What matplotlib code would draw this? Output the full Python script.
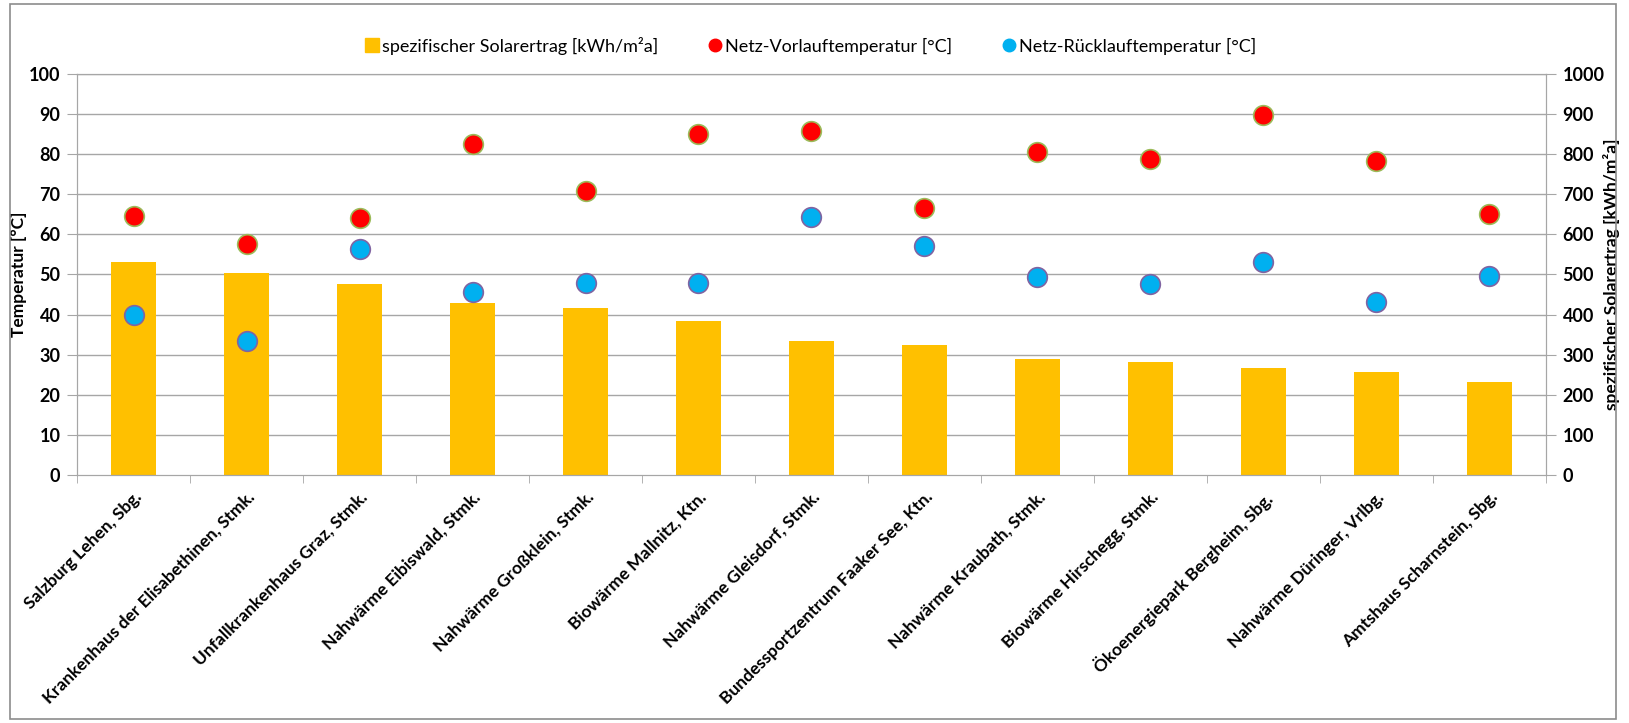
import numpy as np
import matplotlib
matplotlib.use('Agg')
import matplotlib.pyplot as plt
from matplotlib.lines import Line2D
from matplotlib.patches import Rectangle

plt.rcParams['font.family'] = ['Lato', 'DejaVu Sans']

standorte = ['Salzburg Lehen, Sbg.', 'Krankenhaus der Elisabethinen, Stmk.',
             'Unfallkrankenhaus Graz, Stmk.', 'Nahwärme Eibiswald, Stmk.',
             'Nahwärme Großklein, Stmk.', 'Biowärme Mallnitz, Ktn.',
             'Nahwärme Gleisdorf, Stmk.', 'Bundessportzentrum Faaker See, Ktn.',
             'Nahwärme Kraubath, Stmk.', 'Biowärme Hirschegg, Stmk.',
             'Ökoenergiepark Bergheim, Sbg.', 'Nahwärme Düringer, Vrlbg.',
             'Amtshaus Scharnstein, Sbg.']
solarertrag = [532, 504, 475, 429, 416, 384, 335, 324, 288, 281, 267, 257, 233]
vorlauf = [64.5, 57.5, 64.0, 82.5, 70.8, 85.0, 85.7, 66.5, 80.5, 78.7, 89.6, 78.3, 65.0]
ruecklauf = [40.0, 33.3, 56.4, 45.5, 47.9, 47.9, 64.3, 57.0, 49.3, 47.5, 53.0, 43.0, 49.5]

bar_col = '#FFC000'
red = '#FF0000'
blue = '#00B0F0'
grid_col = '#A6A6A6'

fig = plt.figure(figsize=(16.29, 7.23), dpi=100)
ax = fig.add_axes([0.0473, 0.343, 0.9017, 0.555])
ax2 = ax.twinx()

x = np.arange(len(standorte))

ax2.bar(x, solarertrag, 0.4, color=bar_col, zorder=2)
ax2.set_ylim(0, 1000)
ax2.set_yticks(np.arange(0, 1001, 100))

ax.set_zorder(ax2.get_zorder() + 1)
ax.patch.set_visible(False)
ax.scatter(x, vorlauf, s=200, color=red, edgecolors='#9BBB59', linewidths=1.2, zorder=3)
ax.scatter(x, ruecklauf, s=200, color=blue, edgecolors='#8064A2', linewidths=1.2, zorder=3)
ax.set_ylim(0, 100)
ax.set_yticks(np.arange(0, 101, 10))
ax.set_xlim(-0.5, len(standorte) - 0.5)

# gridlines on the bar axis so they stay behind the bars
for v in range(100, 1001, 100):
    ax2.axhline(v, color=grid_col, lw=1.0, zorder=1)

ax.set_xticks(x)
ax.set_xticklabels(standorte, rotation=45, ha='right', rotation_mode='anchor',
                   fontsize=12.5, fontweight='bold')
ax.tick_params(axis='x', which='major', length=0, pad=10)
ax.set_xticks(np.arange(-0.5, len(standorte)), minor=True)
ax.tick_params(axis='x', which='minor', length=6, color=grid_col, direction='out')

for a in (ax, ax2):
    a.tick_params(axis='y', length=7, color=grid_col, labelsize=13, pad=5)
    for s in a.spines.values():
        s.set_color(grid_col)
    for lab in a.get_yticklabels():
        lab.set_fontweight('bold')

ax.set_ylabel('Temperatur [°C]', fontsize=12.5, fontweight='bold')
ax.yaxis.set_label_coords(-0.034, 0.5)
ax2.set_ylabel('spezifischer Solarertrag [kWh/m²a]', fontsize=12.5, fontweight='bold')
ax2.yaxis.set_label_coords(1.039, 0.5)

handles = [Line2D([], [], marker='s', ls='', color=bar_col, markersize=10),
           Line2D([], [], marker='o', ls='', color=red, markersize=9),
           Line2D([], [], marker='o', ls='', color=blue, markersize=9)]
labels = ['spezifischer Solarertrag [kWh/m²a]', 'Netz-Vorlauftemperatur [°C]',
          'Netz-Rücklauftemperatur [°C]']
fig.legend(handles, labels, loc='center', bbox_to_anchor=(0.497, 0.937), ncol=3,
           frameon=False, fontsize=13, handletextpad=0.1, columnspacing=2.6,
           handlelength=1.0)

fig.patches.append(Rectangle((0.006, 0.006), 0.986, 0.988, transform=fig.transFigure,
                             fill=False, edgecolor='#8C8C8C', lw=1.2))

fig.savefig('out.png', dpi=100)
